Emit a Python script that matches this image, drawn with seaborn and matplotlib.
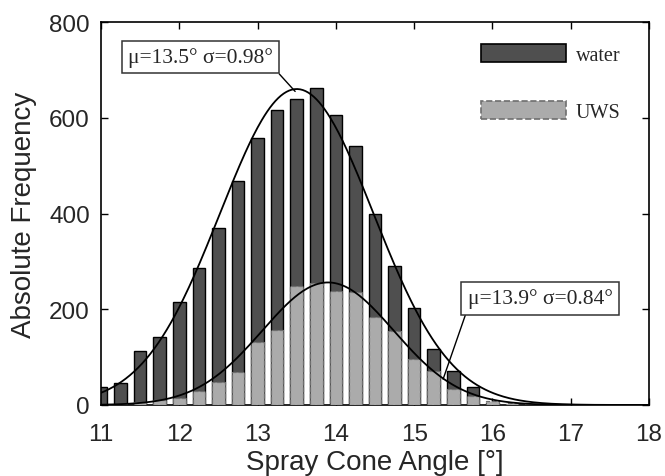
import numpy as np
import pandas as pd
import matplotlib
matplotlib.use("Agg")
import matplotlib.pyplot as plt
import seaborn as sns
from matplotlib.patches import Patch

# ---- data ----
angles = [11.0, 11.25, 11.5, 11.75, 12.0, 12.25, 12.5, 12.75, 13.0, 13.25, 13.5,
          13.75, 14.0, 14.25, 14.5, 14.75, 15.0, 15.25, 15.5, 15.75, 16.0, 16.25, 16.5]
water = [38, 45, 113, 141, 216, 286, 370, 467, 558, 617, 640,
         662, 606, 541, 399, 291, 203, 116, 72, 37, 5, 0, 0]
uws = [2, 3, 6, 10, 15, 30, 48, 68, 132, 157, 249,
       255, 239, 235, 183, 155, 96, 72, 33, 19, 9, 4, 2]

fit_labels = ["water", "UWS"]
fit_mu = [13.5, 13.9]
fit_sigma = [0.98, 0.84]
fit_peak = [660, 256]

xticks = [11, 12, 13, 14, 15, 16, 17, 18]
yticks = [0, 200, 400, 600, 800]

# ---- style ----
sns.set_style("ticks")
plt.rcParams["font.family"] = ["Liberation Sans", "DejaVu Sans"]
plt.rcParams["xtick.direction"] = "in"
plt.rcParams["ytick.direction"] = "in"

fig = plt.figure(figsize=(6.65, 4.77), dpi=100)
ax = fig.add_axes([101 / 665, 1 - 406 / 477, (649 - 101) / 665, (406 - 23) / 477])

df = pd.DataFrame({"angle": angles, "water": water, "uws": uws})

dark = "#4f4f4f"
light = "#ababab"

sns.barplot(data=df, x="angle", y="water", native_scale=True, width=0.64,
            color=dark, saturation=1, edgecolor="black", linewidth=1.0, ax=ax, zorder=2)
sns.barplot(data=df, x="angle", y="uws", native_scale=True, width=0.64,
            color=light, saturation=1, edgecolor="#6e6e6e", linewidth=0.9,
            linestyle="--", ax=ax, zorder=3)

# fitted normal curves
xs = np.linspace(11, 18, 400)
for mu, sg, pk in zip(fit_mu, fit_sigma, fit_peak):
    ys = pk * np.exp(-0.5 * ((xs - mu) / sg) ** 2)
    sns.lineplot(x=xs, y=ys, color="black", linewidth=1.3, ax=ax, zorder=4)

ax.set_xlim(11, 18)
ax.set_ylim(0, 800)
ax.set_xticks(xticks)
ax.set_yticks(yticks)
ax.tick_params(axis="both", labelsize=17.5, length=5, width=1, top=True, right=True,
               color="black")
ax.tick_params(axis="x", pad=13)
ax.tick_params(axis="y", pad=8)
for s in ax.spines.values():
    s.set_visible(True)
    s.set_linewidth(1.2)
    s.set_color("black")

ax.set_xlabel("Spray Cone Angle [°]", fontsize=20, labelpad=3)
ax.set_ylabel("Absolute Frequency", fontsize=20, labelpad=9)

serif = ["Liberation Serif", "DejaVu Serif"]
bbox = dict(boxstyle="square,pad=0.3", facecolor="white", edgecolor="#333333", linewidth=1.1)

ax.annotate(f"μ={fit_mu[0]}° σ={fit_sigma[0]}°", xy=(13.48, 655), xytext=(12.27, 727),
            ha="center", va="center", fontsize=15.5, family=serif, bbox=bbox, zorder=6,
            arrowprops=dict(arrowstyle="-", color="black", lw=1.0, relpos=(1, 0),
                            shrinkA=0, shrinkB=0))
ax.annotate(f"μ={fit_mu[1]}° σ={fit_sigma[1]}°", xy=(15.37, 54), xytext=(16.61, 223),
            ha="center", va="center", fontsize=15.5, family=serif, bbox=bbox, zorder=6,
            arrowprops=dict(arrowstyle="-", color="black", lw=1.0, relpos=(0, 0),
                            shrinkA=0, shrinkB=0))

handles = [Patch(facecolor=dark, edgecolor="black", linewidth=1.2, label=fit_labels[0]),
           Patch(facecolor=light, edgecolor="#6e6e6e", linewidth=1.2, linestyle="--",
                 label=fit_labels[1])]
ax.legend(handles=handles, loc="upper right", frameon=False, prop={"family": serif, "size": 14.5},
          handlelength=4.2, handleheight=1.0, labelspacing=1.8, handletextpad=0.5,
          borderaxespad=0.6, bbox_to_anchor=(0.985, 0.995))

fig.savefig("out.png", dpi=100)
